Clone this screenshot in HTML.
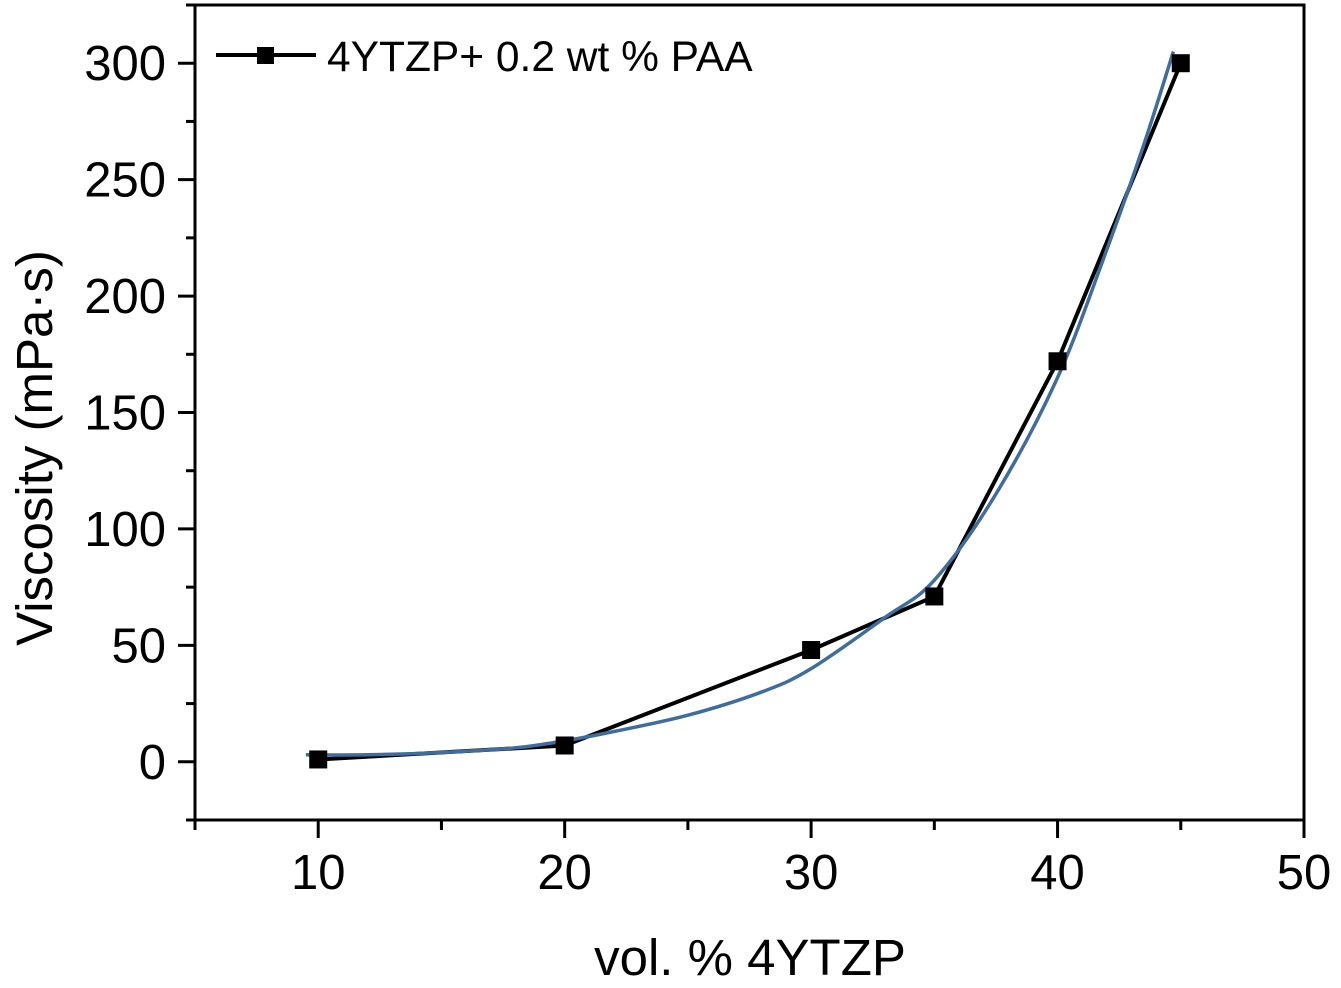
<!DOCTYPE html>
<html><head><meta charset="utf-8"><style>
html,body{margin:0;padding:0;background:#fff;}
svg{display:block;font-family:"Liberation Sans",Arial,sans-serif;}
</style></head><body>
<svg id="chart" width="1341" height="988" viewBox="0 0 1341 988" xmlns="http://www.w3.org/2000/svg">
<g id="axes"></g>
<g id="series"></g>
<g>
  <line x1="216" y1="55" x2="316" y2="55" stroke="#000" stroke-width="4"/>
  <rect x="257" y="47" width="17" height="17" fill="#000"/>
  <text x="327" y="71" font-size="42.5" fill="#000">4YTZP+ 0.2 wt % PAA</text>
</g>
<text x="750" y="975" font-size="51" text-anchor="middle">vol. % 4YTZP</text>
<text transform="translate(52,448) rotate(-90)" font-size="51" text-anchor="middle">Viscosity (mPa·s)</text>
</svg>
<script>
const xData = [10, 20, 30, 35, 40, 45];
const yData = [1, 7, 48, 71, 172, 300];
const fitX = [9.5, 12, 15, 18, 20, 22, 25, 28, 30, 33, 35, 37.5, 40, 42, 43.5, 44.7];
const fitY = [3, 3, 4, 6, 9, 13, 20, 30, 40, 62, 78, 115, 165, 220, 265, 305];
const xTicks = [10, 20, 30, 40, 50];
const yTicks = [0, 50, 100, 150, 200, 250, 300];

const L=195,R=1304,T=5,B=820;
const xMin=5,xMax=50,yMin=-25,yMax=325;
const sx=v=>L+(v-xMin)/(xMax-xMin)*(R-L);
const sy=v=>B-(v-yMin)/(yMax-yMin)*(B-T);
const NS="http://www.w3.org/2000/svg";
function mk(tag,attrs,parent){const e=document.createElementNS(NS,tag);for(const k in attrs)e.setAttribute(k,attrs[k]);parent.appendChild(e);return e;}
const axes=document.getElementById('axes');
const ser=document.getElementById('series');

let f=mk('rect',{x:L,y:T,width:R-L,height:B-T,fill:'none',stroke:'#000','stroke-width':3},axes);



for(let v=xMin;v<=xMax;v+=5){
  const major=v%10===0;
  const t=mk('line',{x1:sx(v),x2:sx(v),y1:B,y2:B+(major?18:10),stroke:'#000','stroke-width':3},axes);
  
  
}
xTicks.forEach(v=>{
  const t=mk('text',{x:sx(v),y:889,'font-size':49,'text-anchor':'middle'},axes);
  t.textContent=v;
  
  
});
for(let v=-25;v<=325;v+=25){
  const major=v%50===0;
  const t=mk('line',{x1:L,x2:L-(major?17:9),y1:sy(v),y2:sy(v),stroke:'#000','stroke-width':3},axes);
  
  
}
yTicks.forEach(v=>{
  const t=mk('text',{x:166,y:sy(v)+17,'font-size':49,'text-anchor':'end'},axes);
  t.textContent=v;
  
  
});

const dl=mk('polyline',{points:xData.map((x,i)=>sx(x)+','+sy(yData[i])).join(' '),fill:'none',stroke:'#000','stroke-width':4},ser);



const pts=fitX.map((x,i)=>[sx(x),sy(fitY[i])]);
let d='M'+pts[0][0]+','+pts[0][1];
for(let i=0;i<pts.length-1;i++){
  const p0=pts[i-1]||pts[i],p1=pts[i],p2=pts[i+1],p3=pts[i+2]||p2;
  const c1=[p1[0]+(p2[0]-p0[0])/6,p1[1]+(p2[1]-p0[1])/6];
  const c2=[p2[0]-(p3[0]-p1[0])/6,p2[1]-(p3[1]-p1[1])/6];
  d+=' C'+c1+' '+c2+' '+p2;
}
const fc=mk('path',{d:d,fill:'none',stroke:'#3f6e9e','stroke-width':3.5},ser);



xData.forEach((x,i)=>{
  const m=mk('rect',{x:sx(x)-9,y:sy(yData[i])-9,width:18,height:18,fill:'#000'},ser);
  
  
});
</script>
</body></html>
